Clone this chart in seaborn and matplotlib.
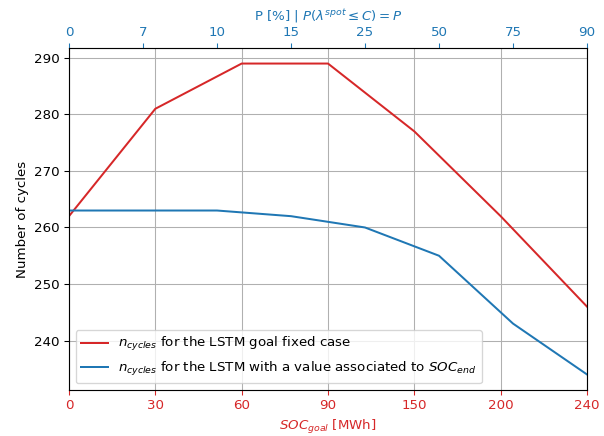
import numpy as np
import pandas as pd
import matplotlib
matplotlib.use("Agg")
import matplotlib.pyplot as plt
import seaborn as sns

# Bottom axis: goal state of charge levels and cycle counts (LSTM goal fixed)
soc_goal_labels = ["0", "30", "60", "90", "150", "200", "240"]
cycles_goal_fixed = [262, 281, 289, 289, 277, 262, 246]

# Top axis: probability levels and cycle counts (LSTM with value for SOC_end)
prob_labels = ["0", "7", "10", "15", "25", "50", "75", "90"]
cycles_value_soc_end = [263, 263, 263, 262, 260, 255, 243, 234]

red = "#d62728"
blue = "#1f77b4"

DPI = 96
fig = plt.figure(figsize=(604 / DPI, 436 / DPI), dpi=DPI)
ax = fig.add_axes([69 / 604, 1 - 390 / 436, (587 - 69) / 604, (390 - 48) / 436])

df_red = pd.DataFrame({"pos": np.arange(len(soc_goal_labels)), "cycles": cycles_goal_fixed})
df_blue = pd.DataFrame({"pos": np.arange(len(prob_labels)), "cycles": cycles_value_soc_end})

sns.lineplot(data=df_red, x="pos", y="cycles", ax=ax, color=red, linewidth=1.5)
ax.set_xlim(0, len(soc_goal_labels) - 1)
ax.set_xticks(np.arange(len(soc_goal_labels)))
ax.set_xticklabels(soc_goal_labels)
ax.tick_params(axis="x", colors=red, labelsize=10)
ax.tick_params(axis="y", labelsize=10)
ax.set_xlabel(r"$SOC_{goal}$ [MWh]", color=red, fontsize=10)
ax.set_ylabel("Number of cycles", fontsize=10)
ax.grid(True, color="#b0b0b0", linewidth=0.8)

ax2 = ax.twiny()
sns.lineplot(data=df_blue, x="pos", y="cycles", ax=ax2, color=blue, linewidth=1.5)
ax2.set_xlim(0, len(prob_labels) - 1)
ax2.set_xticks(np.arange(len(prob_labels)))
ax2.set_xticklabels(prob_labels)
ax2.tick_params(axis="x", colors=blue, labelsize=10)
ax2.set_xlabel(r"P [%] | $P(\lambda^{spot} \leq C) = P$", color=blue, fontsize=10)
ax2.set_ylabel("")

lines = [ax.get_lines()[0], ax2.get_lines()[0]]
labels = [
    r"$n_{cycles}$ for the LSTM goal fixed case",
    r"$n_{cycles}$ for the LSTM with a value associated to $SOC_{end}$",
]
ax2.legend(lines, labels, loc="lower left", fontsize=10)

fig.savefig("out.png", dpi=DPI)
